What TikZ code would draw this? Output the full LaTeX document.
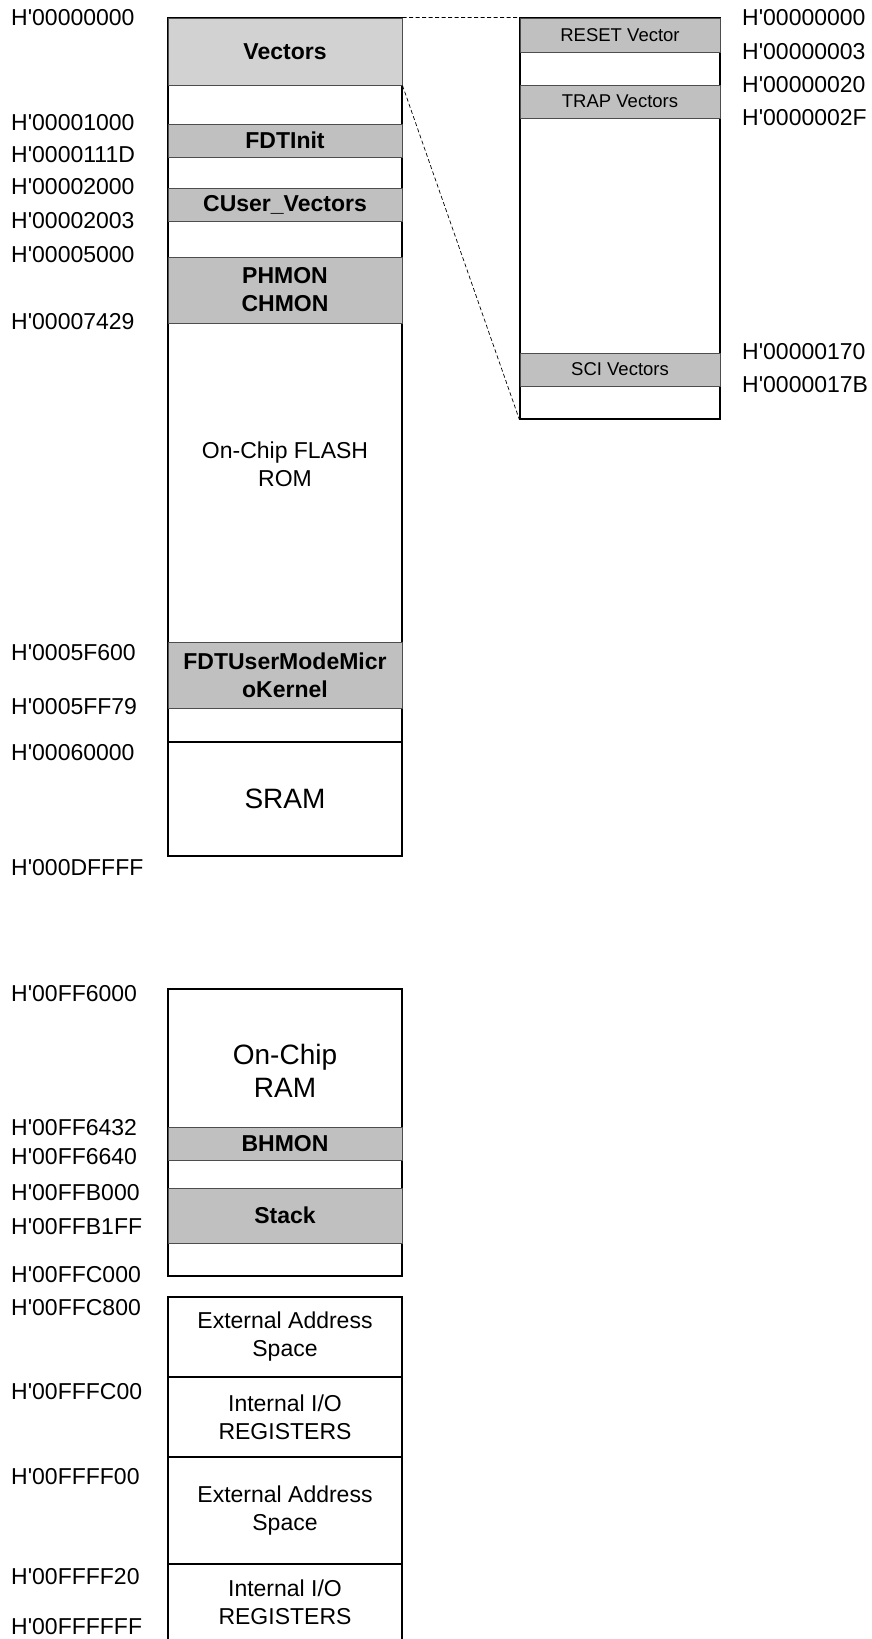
\documentclass[tikz,border=0pt]{standalone}
\usepackage{fontspec}
\setmainfont{Liberation Sans}
\newcommand{\hadr}[1]{H\textquotesingle#1}
\definecolor{segfill}{HTML}{C0C0C0}
\definecolor{vecfill}{HTML}{D2D2D2}
\definecolor{segline}{HTML}{4D4D4D}
\begin{document}
\begin{tikzpicture}[x=1pt, y=-1pt,
    adr/.style={anchor=west, inner sep=0pt, font=\fontsize{23}{28}\selectfont},
    block/.style={draw=black, line width=1.2pt, minimum width=234pt, inner sep=0pt,
      align=center, font=\fontsize{23}{28}\selectfont},
    seg/.style={draw=segline, fill=segfill, line width=1pt, minimum width=234pt,
      inner sep=0pt, align=center, font=\fontsize{23}{28}\selectfont\bfseries},
    smallseg/.style={seg, minimum width=200pt, font=\fontsize{18.5}{22}\selectfont},
    bigtxt/.style={align=center, inner sep=0pt, font=\fontsize{28}{33}\selectfont}]
    \useasboundingbox (0,0) rectangle (872,1639);

    % Flash
    \node[block, minimum height=724pt] (flash) at (285,380) {};
    \node[align=center, inner sep=0pt, font=\fontsize{23}{28}\selectfont] (flashtxt) at (285,464) {On-Chip FLASH\\ROM};
    \node[block, minimum height=114pt] (sram) at (285,799) {};
    \node[bigtxt] (sramtxt) at (285,799) {SRAM};

    % Bereiche im Flash
    \node[seg, fill=vecfill, minimum height=67pt] (vectors) at (285,51.5) {Vectors};
    \node[seg, minimum height=33pt] (fdtinit) at (285,140.5) {FDTInit};
    \node[seg, minimum height=33pt] (cuser) at (285,204.5) {CUser\_Vectors};
    \node[seg, minimum height=66pt] (mon) at (285,290) {PHMON\\CHMON};
    \node[seg, minimum height=66pt] (kernel) at (285,675) {FDTUserModeMicr\\oKernel};

    % Vektortabelle
    \node[block, minimum width=200pt, minimum height=401pt] (zoomvec) at (620,218.5) {};
    \node[smallseg, minimum height=34pt] (reset) at (620,35) {RESET Vector};
    \node[smallseg, minimum height=33pt] (trap) at (620,101.5) {TRAP Vectors};
    \node[smallseg, minimum height=33pt] (sci) at (620,369.5) {SCI Vectors};
    \draw[dash pattern=on 4pt off 2.5pt, line width=0.7pt] (vectors.north east) -- (zoomvec.north west);
    \draw[dash pattern=on 4pt off 2.5pt, line width=0.7pt] (vectors.south east) -- (zoomvec.south west);

    % RAM
    \node[block, minimum height=287pt] (ram) at (285,1132.5) {};
    \node[bigtxt] (ramtxt) at (285,1071) {On-Chip\\RAM};
    \node[seg, minimum height=33pt] (bhmon) at (285,1143.5) {BHMON};
    \node[seg, minimum height=55pt] (stack) at (285,1215.5) {Stack};

    % I/O und extern
    \node[block, minimum height=80pt] (ext1) at (285,1337) {External Address\\Space};
    \node[block, minimum height=80pt] (io1) at (285,1417) {Internal I/O\\REGISTERS};
    \node[block, minimum height=107pt] (ext2) at (285,1510.5) {External Address\\Space};
    \node[block, minimum height=77pt] (io2) at (285,1602.5) {Internal I/O\\REGISTERS};

    % Adressen links
    \node[adr] (a00000000) at (11,18) {\hadr{00000000}};
    \node[adr] (a00001000) at (11,123) {\hadr{00001000}};
    \node[adr] (a0000111D) at (11,155) {\hadr{0000111D}};
    \node[adr] (a00002000) at (11,187) {\hadr{00002000}};
    \node[adr] (a00002003) at (11,221) {\hadr{00002003}};
    \node[adr] (a00005000) at (11,255) {\hadr{00005000}};
    \node[adr] (a00007429) at (11,322) {\hadr{00007429}};
    \node[adr] (a0005F600) at (11,653) {\hadr{0005F600}};
    \node[adr] (a0005FF79) at (11,707) {\hadr{0005FF79}};
    \node[adr] (a00060000) at (11,753) {\hadr{00060000}};
    \node[adr] (a000DFFFF) at (11,868) {\hadr{000DFFFF}};
    \node[adr] (a00FF6000) at (11,994) {\hadr{00FF6000}};
    \node[adr] (a00FF6432) at (11,1128) {\hadr{00FF6432}};
    \node[adr] (a00FF6640) at (11,1157) {\hadr{00FF6640}};
    \node[adr] (a00FFB000) at (11,1193) {\hadr{00FFB000}};
    \node[adr] (a00FFB1FF) at (11,1227) {\hadr{00FFB1FF}};
    \node[adr] (a00FFC000) at (11,1275) {\hadr{00FFC000}};
    \node[adr] (a00FFC800) at (11,1308) {\hadr{00FFC800}};
    \node[adr] (a00FFFC00) at (11,1392) {\hadr{00FFFC00}};
    \node[adr] (a00FFFF00) at (11,1477) {\hadr{00FFFF00}};
    \node[adr] (a00FFFF20) at (11,1577) {\hadr{00FFFF20}};
    \node[adr] (a00FFFFFF) at (11,1627) {\hadr{00FFFFFF}};

    % Adressen rechts
    \node[adr] (z00000000) at (742,18) {\hadr{00000000}};
    \node[adr] (z00000003) at (742,52) {\hadr{00000003}};
    \node[adr] (z00000020) at (742,85) {\hadr{00000020}};
    \node[adr] (z0000002F) at (742,118) {\hadr{0000002F}};
    \node[adr] (z00000170) at (742,352) {\hadr{00000170}};
    \node[adr] (z0000017B) at (742,385) {\hadr{0000017B}};

\end{tikzpicture}
\end{document}
